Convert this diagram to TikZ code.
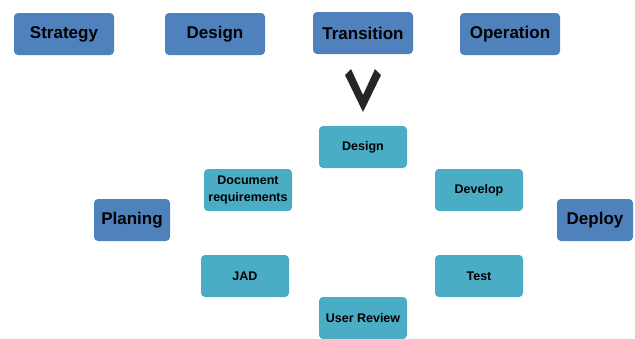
\documentclass[tikz,border=0pt]{standalone}
\usepackage{fontspec}
\setmainfont{Liberation Sans}
\usepackage{tikz}
\usetikzlibrary{positioning}

\definecolor{phaseblue}{HTML}{4F81BD}
\definecolor{taskaqua}{HTML}{4BACC6}
\definecolor{chevron}{HTML}{262626}

\tikzset{phase/.style = {fill=phaseblue, rounded corners=4pt, inner sep=0,
                         minimum width=100, minimum height=42,
                         font=\fontsize{17}{20}\selectfont\bfseries, text=black}}
\tikzset{task/.style = {fill=taskaqua, rounded corners=4pt, inner sep=0,
                        minimum width=88, minimum height=42, align=center,
                        font=\fontsize{12.5}{17}\selectfont\bfseries, text=black}}
\tikzset{ends/.style = {phase, minimum width=76}}

\begin{document}
\begin{tikzpicture}[x=1pt, y=-1pt]
      \useasboundingbox (0,0) rectangle (635,338);

      % lifecycle phases
      \node[phase] (strategy)   at (64,34)  {Strategy};
      \node[phase] (design)     at (215,34) {Design};
      \node[phase] (transition) at (363,33) {Transition};
      \node[phase] (operation)  at (510,34) {Operation};

      % chevron under Transition
      \fill[chevron] (345,75) -- (351,69) -- (363,95) -- (375,69)
                     -- (381,75) -- (363,112) -- cycle;

      % the cycle
      \node[ends] (planing) at (132,220) {Planing};
      \node[ends] (deploy)  at (595,220) {Deploy};

      \node[task] (tdesign)  at (363,147) {Design};
      \node[task] (docreq)   at (248,190) {Document\\requirements};
      \node[task] (develop)  at (479,190) {Develop};
      \node[task] (jad)      at (245,276) {JAD};
      \node[task] (test)     at (479,276) {Test};
      \node[task] (review)   at (363,318) {User Review};
    \end{tikzpicture}
\end{document}
